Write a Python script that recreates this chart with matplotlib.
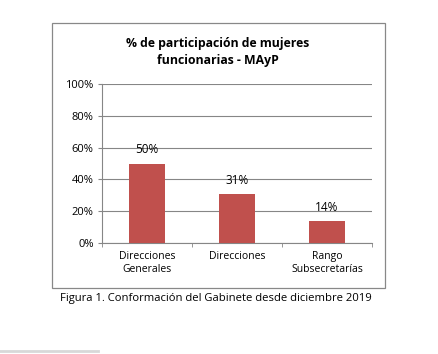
import matplotlib
matplotlib.use("Agg")
import matplotlib.pyplot as plt
from matplotlib.patches import Rectangle
from matplotlib.lines import Line2D

categories = ["Direcciones\nGenerales", "Direcciones", "Rango\nSubsecretarías"]
values = [50, 31, 14]
labels = ["50%", "31%", "14%"]
yticks = [0, 20, 40, 60, 80, 100]
title = "% de participación de mujeres\nfuncionarias - MAyP"
caption = "Figura 1. Conformación del Gabinete desde diciembre 2019"

plt.rcParams['font.family'] = ['Open Sans', 'DejaVu Sans']
W, H = 439, 354
fig = plt.figure(figsize=(W/100, H/100), dpi=100)

def fx(x): return x / W
def fy(y): return 1 - y / H

# chart border
fig.patches.append(Rectangle((fx(52), fy(288)), (385-52)/W, (288-23)/H,
                             transform=fig.transFigure, fill=False,
                             edgecolor='#888888', linewidth=0.9))

ax = fig.add_axes([fx(102), fy(243), (372-102)/W, (243-84)/H])
x = range(len(categories))
ax.bar(x, values, width=0.4, color='#C0504D', zorder=3)
ax.set_xlim(-0.5, 2.5)
ax.set_ylim(0, 100)
ax.set_yticks(yticks)
ax.set_yticklabels([f"{t}%" for t in yticks], fontsize=8)
ax.set_xticks(list(x))
ax.set_xticklabels(categories, fontsize=7.5)
ax.yaxis.grid(True, color='#868686', linewidth=0.8, zorder=0)
for s in ['top', 'right']:
    ax.spines[s].set_visible(False)
ax.spines['left'].set_color('#868686')
ax.spines['bottom'].set_color('#868686')
ax.tick_params(axis='y', length=3, color='#868686', pad=3)
ax.tick_params(axis='x', length=0, pad=6)
ax.set_xticks([-0.5, 0.5, 1.5, 2.5], minor=True)
ax.tick_params(axis='x', which='minor', length=3, color='#868686')
for xi, v, l in zip(x, values, labels):
    ax.text(xi, v + 8.5, l, ha='center', va='center', fontsize=8.5)

fig.text(fx(218), fy(52), title, ha='center', va='center',
         fontsize=8.8, fontweight='bold', linespacing=1.4)
fig.text(fx(216), fy(298), caption, ha='center', va='center', fontsize=8.1)

fig.lines.append(Line2D([0, fx(98)], [fy(351), fy(351)], transform=fig.transFigure,
                        color='#d8d8d8', linewidth=2))

fig.savefig("out.png", dpi=100)
